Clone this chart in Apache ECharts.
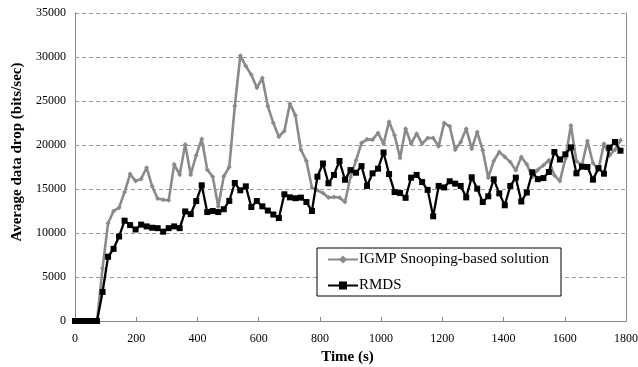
<!DOCTYPE html>
<html><head><meta charset="utf-8">
<script src="https://cdn.jsdelivr.net/npm/echarts@6/dist/echarts.min.js"></script>
<style>html,body{margin:0;padding:0;background:#fff}#c{width:638px;height:367px}</style>
</head><body><div id="c"></div>
<script>
const times = [0,18,36,54,72,90,108,126,144,162,180,198,216,234,252,270,288,306,324,342,
360,378,396,414,432,450,468,486,504,522,540,558,576,594,612,630,648,666,684,702,
720,738,756,774,792,810,828,846,864,882,900,918,936,954,972,990,1008,1026,1044,1062,
1080,1098,1116,1134,1152,1170,1188,1206,1224,1242,1260,1278,1296,1314,1332,1350,1368,1386,1404,1422,
1440,1458,1476,1494,1512,1530,1548,1566,1584,1602,1620,1638,1656,1674,1692,1710,1728,1746,1764,1782];
const igmp = [0,0,0,0,0,6000,11100,12500,12880,14650,16700,15900,16150,17420,15300,13920,13780,13710,17800,16630,
20070,16630,18840,20680,17200,16400,13000,16450,17500,24420,30150,28970,27970,26500,27600,24390,22490,20950,21600,24700,
23370,19470,18180,15150,14850,14540,14020,14090,14020,13520,16360,18260,20220,20640,20610,21360,20150,22650,21100,18520,
21860,20150,21290,20150,20790,20790,19850,22490,22120,19470,20340,21860,19580,21470,19390,16290,18180,19200,18670,18060,
17120,18630,17800,16360,17200,17690,18260,16550,15900,18450,22230,18180,17690,20450,17950,17200,20150,18820,19470,20530];
const rmds = [0,0,0,0,0,3300,7300,8200,9600,11400,10900,10400,10950,10750,10600,10550,10150,10550,10750,10550,
12450,12150,13630,15420,12380,12500,12380,12700,13650,15680,14850,15300,12950,13630,13030,12550,12100,11700,14400,14050,
13950,14020,13520,12500,16400,17900,15650,16600,18180,16050,17150,16850,17600,15350,16780,17310,19150,16700,14650,14540,
14000,16290,16600,15790,14900,11900,15350,15180,15880,15610,15350,14050,16330,15040,13520,14170,16100,14500,13150,15350,
16290,13580,14600,16900,16120,16240,16930,19200,18350,18940,19730,16780,17540,17500,16060,17370,16740,19700,20340,19350];
const seriesNames = ['IGMP Snooping-based solution', 'RMDS'];
const xTitle = 'Time (s)';
const yTitle = 'Average data drop (bits/sec)';

const font = '"Liberation Serif","DejaVu Serif",serif';
const chart = echarts.init(document.getElementById('c'), null, {renderer:'canvas'});
const pair = arr => times.map((t,i)=>[t, arr[i]]);
const plain = v => String(v);
chart.setOption({
  animation:false,
  backgroundColor:'#fff',
  grid:{left:75, right:12, top:13, bottom:46, containLabel:false, outerBoundsMode:'none'},
  xAxis:{type:'value', min:0, max:1800, interval:200,
    name:xTitle, nameLocation:'middle', nameGap:24,
    nameTextStyle:{fontFamily:font, fontSize:15, fontWeight:'bold', color:'#000', padding:[0,6,0,0]},
    axisLine:{lineStyle:{color:'#888', width:1}},
    axisTick:{inside:true, length:4, lineStyle:{color:'#888'}},
    axisLabel:{fontFamily:font, fontSize:12, color:'#000', margin:12, formatter:plain},
    splitLine:{show:false}},
  yAxis:[{type:'value', min:0, max:35000, interval:5000,
    name:yTitle, nameLocation:'middle', nameGap:48,
    nameTextStyle:{fontFamily:font, fontSize:15, fontWeight:'bold', color:'#000', padding:[0,0,0,30]},
    axisLine:{show:true, lineStyle:{color:'#888', width:1}},
    axisTick:{show:false},
    axisLabel:{fontFamily:font, fontSize:12, color:'#000', margin:9, formatter:plain},
    splitLine:{lineStyle:{color:'#999', type:[4,3], width:1}}},
   {type:'value', min:0, max:35000, interval:5000, position:'right',
    axisLine:{show:true, lineStyle:{color:'#888', width:1}},
    axisTick:{show:false}, axisLabel:{show:false}, splitLine:{show:false}}],
  legend:{orient:'vertical', left:317, top:248, width:249,
    backgroundColor:'#fff', borderColor:'#000', borderWidth:1, borderRadius:0,
    padding:[4,12,3,10], itemGap:11, itemWidth:30, itemHeight:10,
    textStyle:{fontFamily:font, fontSize:15, color:'#000', padding:[0,0,0,-4]},
    data:seriesNames},
  series:[
    {name:seriesNames[0], type:'line', data:pair(igmp), symbol:'diamond', symbolSize:5,
     lineStyle:{color:'#8a8a8a', width:2.6}, itemStyle:{color:'#8a8a8a'}, z:2},
    {name:seriesNames[1], type:'line', data:pair(rmds), symbol:'rect', symbolSize:6,
     lineStyle:{color:'#000', width:2.3}, itemStyle:{color:'#000'}, z:3}
  ]
});
</script></body></html>
